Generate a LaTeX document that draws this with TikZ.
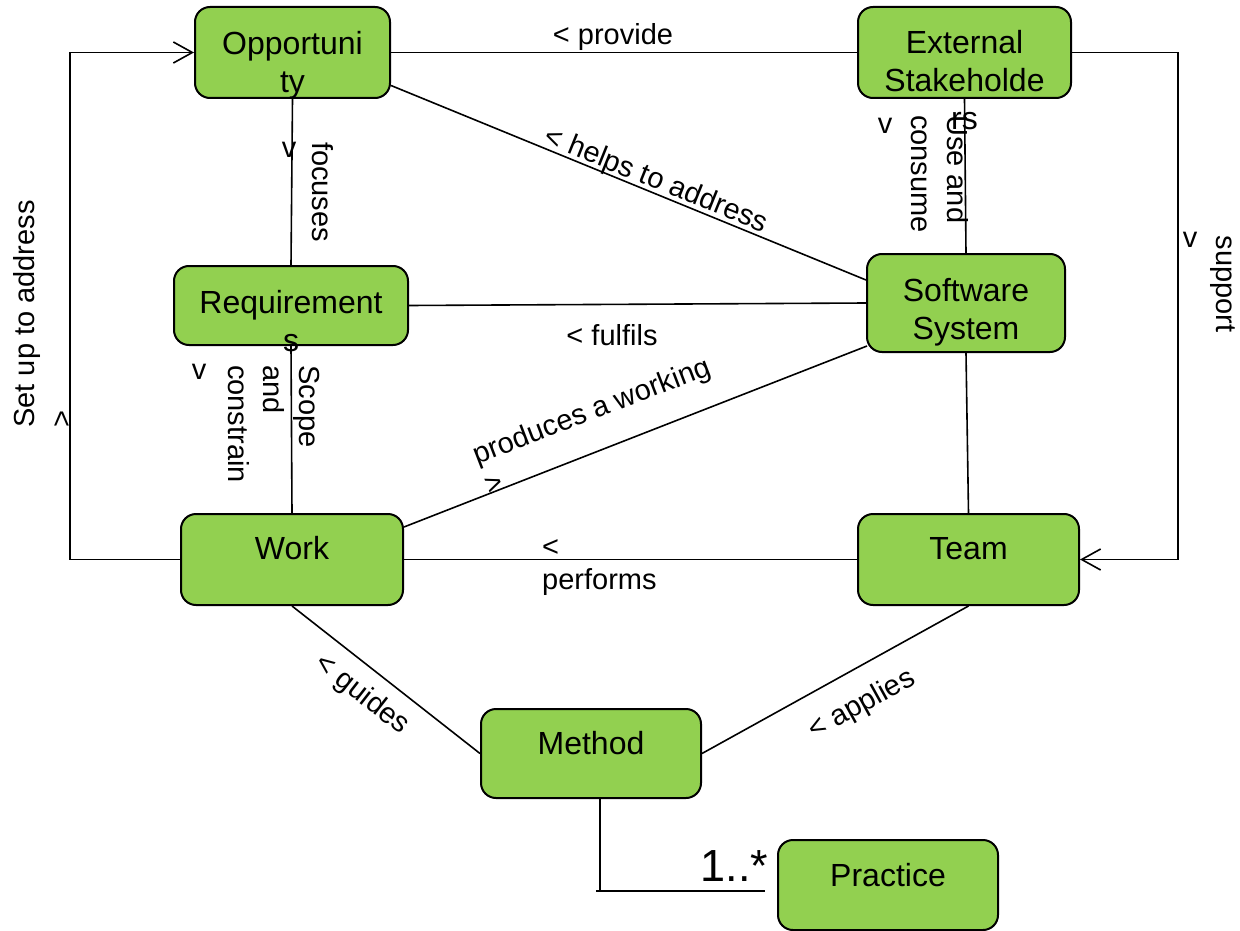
\documentclass[tikz,border=0pt]{standalone}
\usepackage{fontspec}
\setmainfont{Liberation Sans}
\usetikzlibrary{arrows.meta,calc}
\definecolor{boxgreen}{RGB}{146,208,80}
% fixed height for the first line of a box caption
\newcommand{\firstline}{\rule{0pt}{24pt}}
\begin{document}
\begin{tikzpicture}[x=1pt,y=-1pt,
  box/.style={draw=black, fill=boxgreen, line width=2pt, rounded corners=15pt, inner sep=0pt},
  boxtext/.style={anchor=north, inner sep=0pt, align=center, font=\fontsize{32}{38}\selectfont},
  link/.style={draw=black, line width=1.6pt},
  lbl/.style={inner sep=0pt, font=\fontsize{29}{35.5}\selectfont},
  arr/.style={-{Straight Barb[length=19pt,width=21pt]}}
]
\useasboundingbox (0,0) rectangle (1240,931);

% boxes
\node[box, minimum width=195pt, minimum height=91pt] (opp)  at (292.5,52.5) {};
\node[box, minimum width=213pt, minimum height=91pt] (ext)  at (964.5,52.5) {};
\node[box, minimum width=234pt, minimum height=79pt] (req)  at (291,305.5) {};
\node[box, minimum width=198pt, minimum height=98pt] (sw)   at (966,303) {};
\node[box, minimum width=222pt, minimum height=91pt] (work) at (292,559.5) {};
\node[box, minimum width=221pt, minimum height=91pt] (team) at (968.5,559.5) {};
\node[box, minimum width=220pt, minimum height=89pt] (meth) at (591,753.5) {};
\node[box, minimum width=220pt, minimum height=90pt] (prac) at (888,885) {};

% captions
\node[boxtext] (opp-t)  at (292.5,30.5) {\firstline Opportuni\\ty};
\node[boxtext] (ext-t)  at (964.5,29.5) {\firstline External\\Stakeholde\\rs};
\node[boxtext] (req-t)  at (291,289.5) {\firstline Requirement\\s};
\node[boxtext] (sw-t)   at (966,277.5) {\firstline Software\\System};
\node[boxtext] (work-t) at (292,535.5) {\firstline Work};
\node[boxtext] (team-t) at (968.5,535.5) {\firstline Team};
\node[boxtext] (meth-t) at (591,730.5) {\firstline Method};
\node[boxtext] (prac-t) at (888,862.5) {\firstline Practice};

% corner points of the routed connectors
\coordinate (rtop) at (1178,52.5);
\coordinate (ltop) at (70,52.5);
\coordinate (mbend) at (600,890);
\coordinate (pstart) at (596,891);
\coordinate (pend) at (765,891);

% connectors
\draw[link] (opp) -- (ext);
\draw[link] (opp.south) -- (req.north);
\draw[link] ($(opp.east)+(0,33)$) -- ($(sw.west)+(0,-23)$);
\draw[link] (ext.south) -- (sw.north);
\draw[link, arr] (ext.east) -- (rtop) |- (team.east);
\draw[link] (req.east) -- (sw.west);
\draw[link] (req.south) -- (work.north);
\draw[link] ($(work.east)+(0,-32.5)$) -- ($(sw.west)+(1,43)$);
\draw[link] (sw.south) -- (team.north);
\draw[link] (work.east) -- (team.west);
\draw[link, arr] (work.west) -| (ltop) -- (opp.west);
\draw[link] (work.south) -- (meth.west);
\draw[link] (meth.east) -- (team.south);
\draw[link] ($(meth.south)+(9,0)$) -- (mbend);
\draw[link] (pstart) -- (pend);

% connector labels
\node[lbl] (l-provide) at (613,37) {< provide};
\node[lbl, rotate=-22] (l-helps) at (656,181) {< helps to address};
\node[lbl] (l-fulfils) at (612,335) {< fulfils};
\node[lbl, rotate=21, align=left] (l-produces) at (597,425) {produces a working\\[-2.5pt]>};
\node[lbl, rotate=-90] (l-focuses) at (322.5,192) {focuses};
\node[lbl] (v-focuses) at (289,150) {v};
\node[lbl, rotate=-90, align=left] (l-use) at (940,174) {Use and\\consume};
\node[lbl] (v-use) at (885,126) {v};
\node[lbl, rotate=-90, align=left] (l-scope) at (273.5,424) {Scope\\and\\constrain};
\node[lbl] (v-scope) at (199,372) {v};
\node[lbl, rotate=-90] (l-support) at (1223,284) {support};
\node[lbl] (v-support) at (1190,240) {v};
\node[lbl, rotate=90, align=left] (l-setup) at (42,314) {Set up to address\\[1.5pt]>};
\node[lbl, anchor=west, align=left] (l-performs) at (542,568) {<\\[-2.5pt]performs};
\node[lbl, rotate=-38] (l-guides) at (362,695) {< guides};
\node[lbl, rotate=29] (l-applies) at (862,705) {< applies};
\node[inner sep=0pt, font=\fontsize{45}{54}\selectfont] (mult) at (734.5,866) {1..*};

\end{tikzpicture}
\end{document}
